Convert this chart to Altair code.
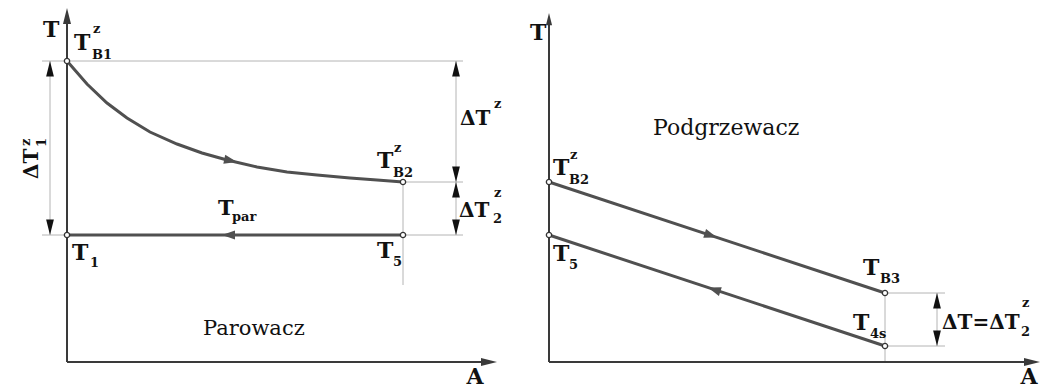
import altair as alt
import pandas as pd

# Diagram units: A along the horizontal axis, T upwards; both panels share one frame,
# the second (Podgrzewacz) panel is shifted right by PANEL2.
PANEL2 = 482

# --- Parowacz (evaporator) ---
evap_A = [0, 20, 40, 60, 83, 110, 135, 160, 190, 220, 250, 283, 310, 336]
evap_T_gas = [301, 278, 259, 244, 230, 218, 209, 202, 195, 190, 187, 184, 182, 180]
evap_T_par = 127          # T_par, boiling line from T5 back to T1
evap_A_end = 336

# --- Podgrzewacz (preheater) ---
pre_A = [0, 336]
pre_T_gas = [180, 69]     # T_B2^z -> T_B3
pre_T_water = [127, 16]   # T_5 <- T_4s

# axis extents (tips of the arrows)
axis_T_top = [354, 349]
axis_A_end = [430, 491]

LINE = "#505050"
AXIS = "#3a3a3a"
THIN = "#b4b4b4"
INK = "#111111"
SERIF = "DejaVu Serif"

XS = alt.Scale(domain=[-67, 974], nice=False, zero=False)
YS = alt.Scale(domain=[-26, 362], nice=False, zero=False)


def X(f="x"):
    return alt.X(f"{f}:Q", scale=XS, axis=None)


def Y(f="y"):
    return alt.Y(f"{f}:Q", scale=YS, axis=None)


# thick process lines
rows = []
for i, (a, t) in enumerate(zip(evap_A, evap_T_gas)):
    rows.append(dict(g="gas1", i=i, x=a, y=t))
rows += [dict(g="par", i=0, x=0, y=evap_T_par), dict(g="par", i=1, x=evap_A_end, y=evap_T_par)]
for i, (a, t) in enumerate(zip(pre_A, pre_T_gas)):
    rows.append(dict(g="gas2", i=i, x=PANEL2 + a, y=t))
for i, (a, t) in enumerate(zip(pre_A, pre_T_water)):
    rows.append(dict(g="water", i=i, x=PANEL2 + a, y=t))
lines_df = pd.DataFrame(rows)

axes_df = pd.DataFrame([
    dict(g="ly", i=0, x=0, y=0), dict(g="ly", i=1, x=0, y=axis_T_top[0] - 10),
    dict(g="lx", i=0, x=0, y=0), dict(g="lx", i=1, x=axis_A_end[0] - 10, y=0),
    dict(g="ry", i=0, x=PANEL2, y=0), dict(g="ry", i=1, x=PANEL2, y=axis_T_top[1] - 8),
    dict(g="rx", i=0, x=PANEL2, y=0), dict(g="rx", i=1, x=PANEL2 + axis_A_end[1] - 10, y=0),
])

# thin extension and dimension lines
T1, TB2, TP = evap_T_gas[0], evap_T_gas[-1], evap_T_par
thin_df = pd.DataFrame([
    dict(x=-25, x2=396, y=T1, y2=T1),
    dict(x=evap_A_end, x2=396, y=TB2, y2=TB2),
    dict(x=-25, x2=396, y=TP, y2=TP),
    dict(x=evap_A_end, x2=evap_A_end, y=TB2, y2=77),
    dict(x=-17, x2=-17, y=TP, y2=T1),
    dict(x=389, x2=389, y=TP, y2=T1),
    dict(x=PANEL2 + 336, x2=PANEL2 + 336, y=pre_T_gas[1], y2=0),
    dict(x=PANEL2 + 336, x2=PANEL2 + 396, y=pre_T_gas[1], y2=pre_T_gas[1]),
    dict(x=PANEL2 + 336, x2=PANEL2 + 396, y=pre_T_water[1], y2=pre_T_water[1]),
    dict(x=PANEL2 + 388, x2=PANEL2 + 388, y=pre_T_water[1], y2=pre_T_gas[1]),
])

UP, DOWN, RIGHT, LEFT = 270, 90, 0, 180
dim_arrows = pd.DataFrame([
    dict(x=-17, y=T1, a=UP), dict(x=-17, y=TP, a=DOWN),
    dict(x=389, y=T1, a=UP), dict(x=389, y=TB2, a=DOWN),
    dict(x=389, y=TB2, a=UP), dict(x=389, y=TP, a=DOWN),
    dict(x=PANEL2 + 388, y=pre_T_gas[1], a=UP), dict(x=PANEL2 + 388, y=pre_T_water[1], a=DOWN),
])
dim_arrows["s"] = 240

axis_arrows = pd.DataFrame([
    dict(x=0, y=axis_T_top[0], a=UP, s=256),
    dict(x=axis_A_end[0], y=0, a=RIGHT, s=256),
    dict(x=PANEL2, y=axis_T_top[1], a=UP, s=150),
    dict(x=PANEL2 + axis_A_end[1], y=0, a=RIGHT, s=256),
])

flow_arrows = pd.DataFrame([
    dict(x=170, y=200, a=12),
    dict(x=155, y=TP, a=LEFT),
    dict(x=PANEL2 + 168, y=124.5, a=18.3),
    dict(x=PANEL2 + 159, y=74.5, a=198.3),
])
flow_arrows["s"] = 169

pts_df = pd.DataFrame([
    dict(x=0, y=T1), dict(x=evap_A_end, y=TB2), dict(x=0, y=TP), dict(x=evap_A_end, y=TP),
    dict(x=PANEL2, y=pre_T_gas[0]), dict(x=PANEL2, y=pre_T_water[0]),
    dict(x=PANEL2 + 336, y=pre_T_gas[1]), dict(x=PANEL2 + 336, y=pre_T_water[1]),
])

# labels: text, anchor (left edge, baseline), font size
bold_labels = pd.DataFrame([
    ("T", -24, 325, 22),
    ("T", 7, 312, 22), ("B1", 25, 303, 13), ("z", 26, 329, 13),
    ("ΔT", 393, 237, 20), ("z", 427, 254, 13),
    ("T", 310, 194, 22), ("B2", 326, 185, 13), ("z", 327, 210, 13),
    ("ΔT", 392, 145, 20), ("2", 426, 139, 13), ("z", 427, 165, 13),
    ("T", 151, 147, 21), ("par", 165, 141, 13),
    ("T", 5, 102, 22), ("1", 23, 95, 13),
    ("T", 310, 104, 22), ("5", 326, 96, 13),
    ("T", PANEL2 - 19, 322, 22),
    ("T", PANEL2 + 4, 187, 22), ("B2", PANEL2 + 20, 178, 13), ("z", PANEL2 + 21, 203, 13),
    ("T", PANEL2 + 4, 101, 22), ("5", PANEL2 + 20, 93, 13),
    ("T", PANEL2 + 314, 87, 22), ("B3", PANEL2 + 331, 79, 13),
    ("T", PANEL2 + 304, 32, 22), ("4s", PANEL2 + 321, 24, 13),
    ("ΔT=ΔT", PANEL2 + 393, 33, 20), ("2", PANEL2 + 472, 26, 13), ("z", PANEL2 + 473, 55, 13),
], columns=["t", "x", "y", "s"])

axis_names = pd.DataFrame([("A", 408, -22), ("A", PANEL2 + 480, -22)], columns=["t", "x", "y"])

region_names = pd.DataFrame([("Parowacz", 136, 27, 21), ("Podgrzewacz", PANEL2 + 104, 227, 22)],
                            columns=["t", "x", "y", "s"])

rot_labels = pd.DataFrame([("ΔT", -29, 183, 20), ("1", -21, 215, 13), ("z", -37, 216, 13)],
                          columns=["t", "x", "y", "s"])

ARROW = "M0,0L-2,-0.5L-2,0.5Z"
ARROW_WIDE = "M0,0L-2,-0.7L-2,0.7Z"

layers = [
    alt.Chart(thin_df).mark_rule(color=THIN, strokeWidth=1).encode(x=X(), x2="x2", y=Y(), y2="y2"),
    alt.Chart(axes_df).mark_line(color=AXIS, strokeWidth=2).encode(x=X(), y=Y(), detail="g:N", order="i:Q"),
    alt.Chart(lines_df).mark_line(color=LINE, strokeWidth=3).encode(x=X(), y=Y(), detail="g:N", order="i:Q"),
    alt.Chart(axis_arrows).mark_point(shape=ARROW, filled=True, color=AXIS, opacity=1).encode(
        x=X(), y=Y(), angle=alt.Angle("a:Q", scale=None), size=alt.Size("s:Q", scale=None)),
    alt.Chart(dim_arrows).mark_point(shape=ARROW, filled=True, color=INK, opacity=1).encode(
        x=X(), y=Y(), angle=alt.Angle("a:Q", scale=None), size=alt.Size("s:Q", scale=None)),
    alt.Chart(flow_arrows).mark_point(shape=ARROW_WIDE, filled=True, color=LINE, opacity=1).encode(
        x=X(), y=Y(), angle=alt.Angle("a:Q", scale=None), size=alt.Size("s:Q", scale=None)),
    alt.Chart(pts_df).mark_point(shape="circle", filled=True, fill="white", stroke="#333333",
                                 strokeWidth=1.3, opacity=1, size=28).encode(x=X(), y=Y()),
    alt.Chart(bold_labels).mark_text(font=SERIF, fontWeight="bold", color=INK, align="left",
                                     baseline="alphabetic").encode(
        x=X(), y=Y(), text="t:N", size=alt.Size("s:Q", scale=None)),
    alt.Chart(axis_names).mark_text(font=SERIF, fontWeight="bold", color=INK, align="center",
                                    baseline="alphabetic", fontSize=22).encode(x=X(), y=Y(), text="t:N"),
    alt.Chart(region_names).mark_text(font=SERIF, color=INK, align="left",
                                      baseline="alphabetic").encode(
        x=X(), y=Y(), text="t:N", size=alt.Size("s:Q", scale=None)),
    alt.Chart(rot_labels).mark_text(font=SERIF, fontWeight="bold", color=INK, align="left",
                                    baseline="alphabetic", angle=270).encode(
        x=X(), y=Y(), text="t:N", size=alt.Size("s:Q", scale=None)),
]

chart = alt.layer(*layers).properties(
    width=1041, height=388, padding=0, autosize="none", background="white"
).configure_view(stroke=None)

chart.save("out.html", embed_options={"renderer": "svg", "actions": False})
